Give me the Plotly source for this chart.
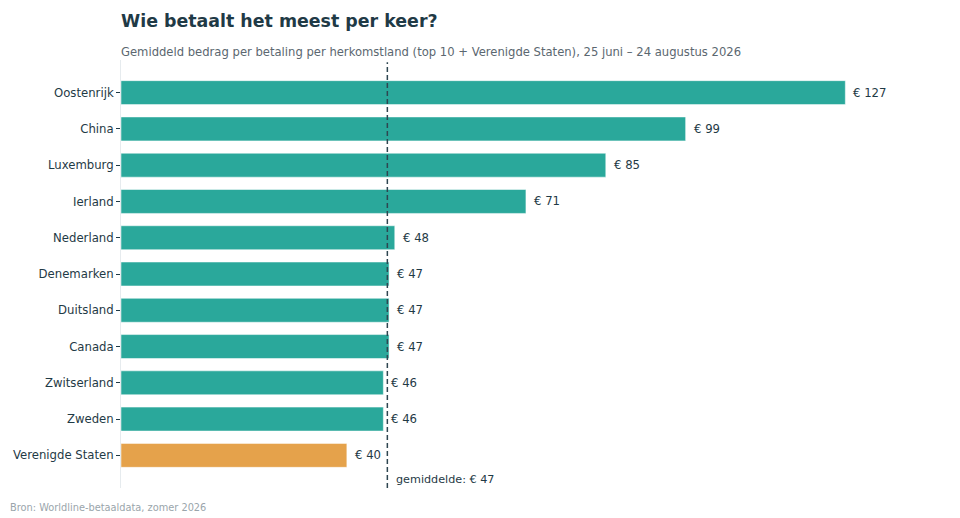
import plotly.graph_objects as go

countries = ["Oostenrijk", "China", "Luxemburg", "Ierland", "Nederland", "Denemarken",
             "Duitsland", "Canada", "Zwitserland", "Zweden", "Verenigde Staten"]
values = [127, 99, 85, 71, 48, 47, 47, 47, 46, 46, 39.6]
labels = ["€ 127", "€ 99", "€ 85", "€ 71", "€ 48", "€ 47", "€ 47", "€ 47", "€ 46", "€ 46", "€ 40"]
average = 46.7
average_label = "gemiddelde: € 47"

TEAL = "#2aa89b"
ORANGE = "#e5a24b"
DARK = "#1f3a46"
colors = [ORANGE if c == "Verenigde Staten" else TEAL for c in countries]

W, H = 952, 510
L, R, T, B = 113, 12, 52, 30
PH = H - T - B
PW = W - L - R

fig = go.Figure()
fig.add_trace(go.Bar(
    y=countries, x=values, orientation="h",
    marker=dict(color=colors, line=dict(color="rgba(255,255,255,0.5)", width=1)),
    width=0.66,
    hoverinfo="skip",
))

for c, v, t in zip(countries, values, labels):
    fig.add_annotation(xref="x", yref="y", x=v, y=c, text=t, showarrow=False,
                       xanchor="left", xshift=6, font=dict(size=11.7, color=DARK))

fig.add_shape(type="line", xref="x", yref="paper", x0=average, x1=average, y0=0, y1=0.995,
              line=dict(color="#2e4550", width=1.5, dash="5px,3px"))
fig.add_annotation(xref="x", yref="y", x=average, y=10.66, text=average_label,
                   showarrow=False, xanchor="left", xshift=7,
                   font=dict(size=11.2, color=DARK))

fig.add_annotation(xref="paper", yref="paper", x=0, y=(H - B - 13) / PH,
                   xanchor="left", yanchor="middle", showarrow=False, xshift=-2,
                   text="<b>Wie betaalt het meest per keer?</b>",
                   font=dict(size=17.4, color=DARK))
fig.add_annotation(xref="paper", yref="paper", x=0, y=(H - B - 44.5) / PH,
                   xanchor="left", yanchor="middle", showarrow=False, xshift=-2,
                   text="Gemiddeld bedrag per betaling per herkomstland (top 10 + Verenigde Staten), 25 juni – 24 augustus 2026",
                   font=dict(size=11.6, color="#5b6770"))
fig.add_annotation(xref="paper", yref="paper", x=-(L - 2) / PW, y=-20 / PH,
                   xanchor="left", yanchor="middle", showarrow=False, xshift=-2,
                   text="Bron: Worldline-betaaldata, zomer 2026",
                   font=dict(size=9.8, color="#9aa5ab"))

fig.update_layout(
    width=W, height=H,
    margin=dict(l=L, r=R, t=T, b=B, autoexpand=False),
    paper_bgcolor="white", plot_bgcolor="white",
    font=dict(family="DejaVu Sans", color=DARK),
    showlegend=False,
    xaxis=dict(range=[0, 145], visible=False, fixedrange=True),
    yaxis=dict(
        autorange=False, range=[10.9, -0.9], automargin=False,
        showline=True, linecolor="#e6ebee", linewidth=1,
        ticks="outside", ticklen=4, tickcolor=DARK, tickwidth=1,
        tickfont=dict(size=11.7, color=DARK),
        showgrid=False, zeroline=False,
    ),
)

fig.write_html("out.html")
